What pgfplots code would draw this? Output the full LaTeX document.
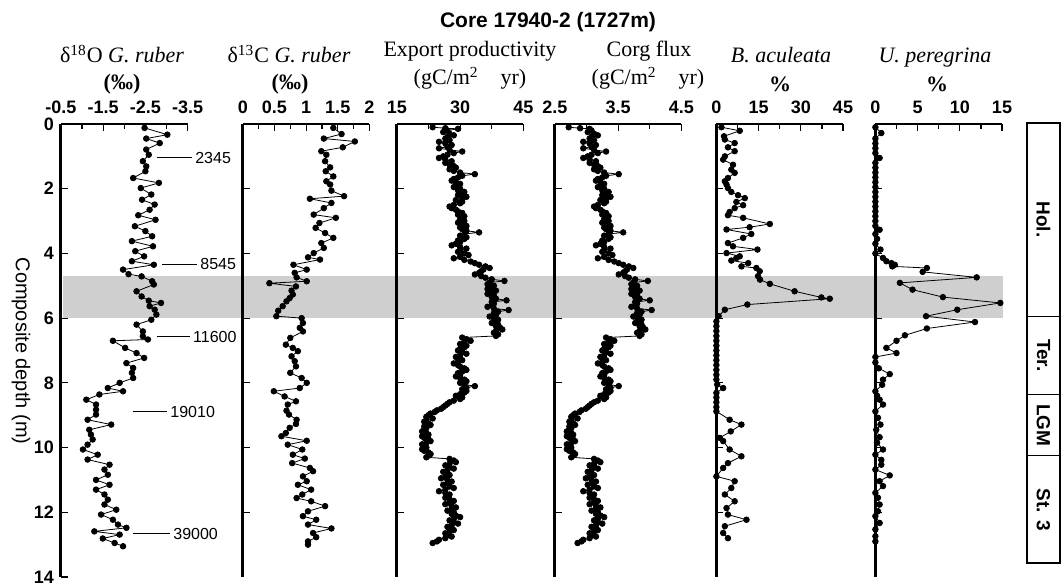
\documentclass[border=0pt]{standalone}
\usepackage{fontspec}
\setmainfont{Liberation Serif}
\setsansfont{Liberation Sans}
\usepackage{pgfplots}
\pgfplotsset{compat=1.18}

\newcommand{\tickfont}{\sffamily\bfseries\fontsize{9}{9}\selectfont}
\newcommand{\ttl}{\rmfamily\fontsize{11}{11}\selectfont}
\newcommand{\agefont}{\sffamily\fontsize{8}{8}\selectfont}

\pgfplotsset{
 core/.style={
   scale only axis, width=63.3pt, height=226.5pt, anchor=north west,
   ymin=0, ymax=14, y dir=reverse,
   axis x line*=top, axis y line*=left,
   x axis line style={line width=1pt,-},
   y axis line style={line width=1.5pt,-},
   ytick={2,4,...,12}, yticklabels={},
   tick style={black, line width=0.6pt},
   major tick length=3.5pt, minor tick length=2.5pt,
   xticklabel style={font=\tickfont, yshift=1.5pt},
   yticklabel style={font=\tickfont},
   clip=false,
 },
 ser/.style={black, line width=0.4pt, mark=*, mark size=1.4pt, mark options={solid,fill=black}},
}

\begin{document}
\begin{tikzpicture}
\useasboundingbox (0,0) rectangle (531pt,292pt);

% shaded band
\begin{axis}[at={(31.5pt,230pt)}, anchor=north west, scale only axis, width=470pt, height=226.5pt,
  xmin=0, xmax=1, ymin=0, ymax=14, y dir=reverse, hide axis]
\fill[black!19] (axis cs:0,4.7) rectangle (axis cs:1,6.0);
\end{axis}

% Panel 1: d18O
\begin{axis}[core, at={(30.5pt,230pt)}, xmin=-3.5, xmax=-0.5, x dir=reverse,
  xtick={-0.5,-1.5,-2.5,-3.5}, xticklabels={-0.5,-1.5,-2.5,-3.5}, minor xtick={-1,-2,-3},
  ytick={0,2,...,14}, yticklabels={0,2,4,6,8,10,12,14}]
\addplot[ser] table[x index=1, y index=0] {
0.12 -2.48
0.33 -3.02
0.45 -2.52
0.59 -2.84
0.79 -2.52
0.95 -2.58
1.15 -2.44
1.31 -2.52
1.46 -2.50
1.67 -2.21
1.82 -2.82
1.98 -2.39
2.18 -2.64
2.34 -2.42
2.49 -2.72
2.65 -2.60
2.82 -2.33
2.96 -2.74
3.16 -2.25
3.31 -2.50
3.47 -2.66
3.62 -2.18
3.78 -2.68
3.93 -2.26
4.09 -2.47
4.24 -2.18
4.35 -2.70
4.50 -1.97
4.64 -2.10
4.71 -2.41
4.86 -2.66
4.96 -2.70
5.17 -2.29
5.33 -2.41
5.46 -2.58
5.53 -2.87
5.63 -2.60
5.74 -2.72
5.89 -2.76
6.05 -2.64
6.20 -2.29
6.41 -2.44
6.56 -2.44
6.66 -2.56
6.70 -1.73
6.92 -2.02
7.08 -2.29
7.23 -2.47
7.39 -2.05
7.54 -2.21
7.69 -2.18
7.85 -2.21
8.00 -1.89
8.16 -1.61
8.26 -1.97
8.36 -1.41
8.52 -1.10
8.67 -1.33
8.83 -1.33
8.98 -1.33
9.14 -1.13
9.29 -1.69
9.45 -1.17
9.60 -1.21
9.75 -1.25
9.91 -1.13
10.06 -1.02
10.22 -1.37
10.37 -1.13
10.53 -1.65
10.68 -1.53
10.84 -1.61
11.00 -1.33
11.15 -1.65
11.30 -1.33
11.45 -1.53
11.61 -1.61
11.76 -1.53
11.92 -1.81
12.07 -1.45
12.23 -1.73
12.38 -1.85
12.48 -2.05
12.59 -1.29
12.69 -1.89
12.81 -1.49
12.95 -1.77
13.05 -1.97
};
\draw[line width=0.5pt] (axis cs:-2.77,1.05) -- (axis cs:-3.60,1.05) node[right, inner sep=1.5pt, font=\agefont] {2345};
\draw[line width=0.5pt] (axis cs:-2.89,4.33) -- (axis cs:-3.72,4.33) node[right, inner sep=1.5pt, font=\agefont] {8545};
\draw[line width=0.5pt] (axis cs:-2.77,6.58) -- (axis cs:-3.55,6.58) node[right, inner sep=1.5pt, font=\agefont] {11600};
\draw[line width=0.5pt] (axis cs:-2.20,8.90) -- (axis cs:-3.01,8.90) node[right, inner sep=1.5pt, font=\agefont] {19010};
\draw[line width=0.5pt] (axis cs:-2.20,12.67) -- (axis cs:-3.08,12.67) node[right, inner sep=1.5pt, font=\agefont] {39000};
\end{axis}

% Panel 2: d13C
\begin{axis}[core, at={(121.4pt,230pt)}, xmin=0, xmax=2,
  xtick={0,0.5,1,1.5,2}, xticklabels={0,0.5,1,1.5,2}, minor xtick={0.25,0.75,1.25,1.75}]
\addplot[ser] table[x index=1, y index=0] {
0.12 1.43
0.31 1.56
0.45 1.28
0.54 1.77
0.72 1.58
0.84 1.24
0.95 1.32
1.15 1.30
1.34 1.38
1.46 1.31
1.62 1.43
1.77 1.32
1.87 1.38
2.06 1.40
2.23 1.60
2.31 1.06
2.44 1.40
2.60 1.28
2.80 1.12
2.90 1.47
3.06 1.21
3.21 1.15
3.37 1.30
3.52 1.43
3.68 1.24
3.83 1.28
3.99 1.12
4.12 1.03
4.19 1.22
4.35 0.80
4.50 1.01
4.60 0.82
4.74 0.85
4.86 1.01
4.92 0.42
5.02 0.84
5.15 0.77
5.27 0.79
5.38 0.74
5.48 0.69
5.63 0.63
5.77 0.56
5.94 0.53
6.00 0.93
6.15 0.95
6.30 0.90
6.41 0.95
6.61 0.75
6.82 0.68
6.92 0.79
7.02 0.87
7.18 0.77
7.33 0.82
7.49 0.84
7.69 0.75
7.85 0.93
8.00 1.01
8.16 0.90
8.26 0.49
8.42 0.66
8.57 0.84
8.67 0.71
8.86 0.69
8.98 0.73
9.14 0.85
9.27 0.84
9.39 0.74
9.55 0.68
9.65 0.61
9.79 1.01
9.91 0.71
10.06 0.94
10.22 0.79
10.34 0.98
10.48 0.78
10.63 1.06
10.73 1.11
10.89 0.95
11.04 1.01
11.15 0.87
11.30 1.08
11.45 0.94
11.56 0.85
11.66 1.08
11.81 1.30
11.97 1.03
12.12 0.95
12.23 1.16
12.38 1.03
12.50 1.40
12.64 1.11
12.77 1.16
12.90 1.03
13.00 1.03
};
\end{axis}

% Panel 3: export productivity
\begin{axis}[core, at={(198.4pt,230pt)}, xmin=15, xmax=45,
  xtick={15,30,45}, xticklabels={15,30,45}, minor xtick={22.5,37.5}]
\addplot[ser] table[x index=1, y index=0] {
0.10 23.5
0.13 26.5
0.15 29.5
0.20 27.0
0.25 26.0
0.30 27.5
0.35 28.5
0.40 27.0
0.45 26.5
0.50 27.5
0.55 25.0
0.60 26.5
0.65 28.0
0.70 27.0
0.75 25.0
0.80 27.5
0.85 30.5
0.90 28.5
0.95 27.0
1.00 26.0
1.05 25.0
1.10 26.5
1.15 28.0
1.20 26.5
1.25 27.5
1.30 28.5
1.35 29.0
1.40 27.5
1.45 28.5
1.50 30.0
1.55 33.5
1.60 30.5
1.65 29.5
1.70 28.5
1.75 28.0
1.80 29.0
1.85 30.0
1.90 29.5
1.95 28.5
2.00 30.0
2.05 29.5
2.10 31.0
2.15 30.5
2.20 29.5
2.25 31.5
2.30 30.5
2.35 29.0
2.40 30.5
2.45 30.0
2.50 28.5
2.55 27.5
2.60 28.0
2.65 29.0
2.70 29.5
2.75 30.5
2.80 29.5
2.85 31.0
2.90 30.5
2.95 30.0
3.00 31.0
3.05 29.5
3.10 30.5
3.15 31.5
3.20 30.0
3.25 30.5
3.30 31.5
3.35 34.5
3.40 31.0
3.45 30.0
3.50 31.5
3.55 31.0
3.60 29.5
3.65 30.0
3.70 29.0
3.75 28.0
3.80 30.0
3.85 31.5
3.90 30.0
3.95 29.5
4.00 31.0
4.05 32.0
4.10 30.0
4.15 28.5
4.20 31.0
4.25 32.5
4.30 33.5
4.35 34.5
4.40 36.0
4.45 37.0
4.50 35.5
4.55 35.0
4.60 34.5
4.65 33.5
4.70 35.0
4.75 36.0
4.80 37.5
4.85 40.5
4.90 37.0
4.95 36.5
5.00 38.0
5.05 37.5
5.10 36.5
5.15 38.5
5.20 37.5
5.25 36.5
5.30 38.0
5.35 37.5
5.40 38.5
5.45 41.0
5.50 37.5
5.55 38.0
5.60 37.5
5.65 36.5
5.70 38.0
5.75 41.5
5.80 39.0
5.85 38.0
5.90 38.5
5.95 37.0
6.00 38.0
6.05 39.0
6.10 38.5
6.15 37.5
6.20 39.0
6.25 38.5
6.30 39.5
6.35 40.0
6.40 38.5
6.45 38.0
6.50 39.0
6.55 38.5
6.60 30.5
6.65 31.5
6.70 32.5
6.75 31.0
6.80 30.0
6.85 31.5
6.90 31.0
6.95 30.0
7.00 29.5
7.05 30.5
7.10 31.5
7.15 30.0
7.20 29.0
7.25 30.0
7.30 30.5
7.35 29.5
7.40 28.5
7.45 29.5
7.50 30.0
7.55 31.0
7.60 31.5
7.65 30.5
7.70 29.5
7.75 30.0
7.80 29.0
7.85 30.0
7.90 31.0
7.95 31.5
8.00 30.0
8.05 31.0
8.10 33.5
8.15 31.5
8.20 30.5
8.25 31.5
8.30 31.0
8.35 30.0
8.40 29.0
8.45 30.5
8.50 30.0
8.55 28.5
8.60 27.5
8.65 27.0
8.70 26.5
8.75 26.0
8.80 25.5
8.85 24.5
8.90 24.0
8.95 23.0
9.00 22.5
9.05 22.0
9.10 23.5
9.15 22.0
9.20 21.5
9.25 22.5
9.30 23.0
9.35 21.5
9.40 22.0
9.45 21.5
9.50 21.0
9.55 22.0
9.60 22.5
9.65 21.0
9.70 21.5
9.75 22.5
9.80 23.0
9.85 22.0
9.90 21.0
9.95 21.5
10.00 22.0
10.05 21.0
10.10 21.5
10.15 22.5
10.20 23.0
10.25 22.5
10.30 22.0
10.35 27.5
10.40 28.5
10.45 29.0
10.50 27.5
10.55 26.5
10.60 27.5
10.65 28.5
10.70 27.0
10.75 26.0
10.80 27.0
10.85 27.5
10.90 26.5
10.95 25.5
11.00 27.0
11.05 28.0
11.10 27.0
11.15 26.0
11.20 27.5
11.25 28.5
11.30 26.5
11.35 25.0
11.40 26.5
11.45 27.5
11.50 27.0
11.55 26.5
11.60 27.5
11.65 28.5
11.70 27.5
11.75 26.5
11.80 28.0
11.85 29.0
11.90 28.0
11.95 27.0
12.00 28.5
12.05 28.0
12.10 29.0
12.15 30.0
12.20 28.5
12.25 27.5
12.30 28.5
12.35 29.5
12.40 28.0
12.45 27.0
12.50 28.0
12.55 28.5
12.60 27.5
12.65 26.5
12.70 27.0
12.75 28.0
12.80 26.5
12.85 25.0
12.90 24.5
12.95 23.5
};
\end{axis}

% Panel 4: Corg flux
\begin{axis}[core, at={(277.4pt,230pt)}, xmin=2.5, xmax=4.5,
  xtick={2.5,3.5,4.5}, xticklabels={2.5,3.5,4.5}, minor xtick={3,4}]
\addplot[ser] table[x index=1, y index=0] {
0.10 2.72
0.13 2.90
0.15 3.05
0.20 3.08
0.25 3.02
0.30 3.12
0.35 3.18
0.40 3.08
0.45 3.05
0.50 3.12
0.55 2.95
0.60 3.05
0.65 3.15
0.70 3.08
0.75 2.95
0.80 3.12
0.85 3.31
0.90 3.18
0.95 3.08
1.00 3.02
1.05 2.95
1.10 3.05
1.15 3.15
1.20 3.05
1.25 3.12
1.30 3.18
1.35 3.22
1.40 3.12
1.45 3.18
1.50 3.28
1.55 3.51
1.60 3.31
1.65 3.25
1.70 3.18
1.75 3.15
1.80 3.22
1.85 3.28
1.90 3.25
1.95 3.18
2.00 3.28
2.05 3.25
2.10 3.35
2.15 3.31
2.20 3.25
2.25 3.38
2.30 3.31
2.35 3.22
2.40 3.31
2.45 3.28
2.50 3.18
2.55 3.12
2.60 3.15
2.65 3.22
2.70 3.25
2.75 3.31
2.80 3.25
2.85 3.35
2.90 3.31
2.95 3.28
3.00 3.35
3.05 3.25
3.10 3.31
3.15 3.38
3.20 3.28
3.25 3.31
3.30 3.38
3.35 3.58
3.40 3.35
3.45 3.28
3.50 3.38
3.55 3.35
3.60 3.25
3.65 3.28
3.70 3.22
3.75 3.15
3.80 3.28
3.85 3.38
3.90 3.28
3.95 3.25
4.00 3.35
4.05 3.41
4.10 3.28
4.15 3.18
4.20 3.35
4.25 3.44
4.30 3.51
4.35 3.58
4.40 3.67
4.45 3.74
4.50 3.64
4.55 3.61
4.60 3.58
4.65 3.51
4.70 3.61
4.75 3.67
4.80 3.77
4.85 3.97
4.90 3.74
4.95 3.71
5.00 3.80
5.05 3.77
5.10 3.71
5.15 3.84
5.20 3.77
5.25 3.71
5.30 3.80
5.35 3.77
5.40 3.84
5.45 4.00
5.50 3.77
5.55 3.80
5.60 3.77
5.65 3.71
5.70 3.80
5.75 4.03
5.80 3.87
5.85 3.80
5.90 3.84
5.95 3.74
6.00 3.80
6.05 3.87
6.10 3.84
6.15 3.77
6.20 3.87
6.25 3.84
6.30 3.90
6.35 3.93
6.40 3.84
6.45 3.80
6.50 3.87
6.55 3.84
6.60 3.31
6.65 3.38
6.70 3.44
6.75 3.35
6.80 3.28
6.85 3.38
6.90 3.35
6.95 3.28
7.00 3.25
7.05 3.31
7.10 3.38
7.15 3.28
7.20 3.22
7.25 3.28
7.30 3.31
7.35 3.25
7.40 3.18
7.45 3.25
7.50 3.28
7.55 3.35
7.60 3.38
7.65 3.31
7.70 3.25
7.75 3.28
7.80 3.22
7.85 3.28
7.90 3.35
7.95 3.38
8.00 3.28
8.05 3.35
8.10 3.51
8.15 3.38
8.20 3.31
8.25 3.38
8.30 3.35
8.35 3.28
8.40 3.22
8.45 3.31
8.50 3.28
8.55 3.18
8.60 3.12
8.65 3.08
8.70 3.05
8.75 3.02
8.80 2.99
8.85 2.92
8.90 2.89
8.95 2.82
9.00 2.79
9.05 2.76
9.10 2.86
9.15 2.76
9.20 2.73
9.25 2.79
9.30 2.82
9.35 2.73
9.40 2.76
9.45 2.73
9.50 2.69
9.55 2.76
9.60 2.79
9.65 2.69
9.70 2.73
9.75 2.79
9.80 2.82
9.85 2.76
9.90 2.69
9.95 2.73
10.00 2.76
10.05 2.69
10.10 2.73
10.15 2.79
10.20 2.82
10.25 2.79
10.30 2.76
10.35 3.12
10.40 3.18
10.45 3.22
10.50 3.12
10.55 3.05
10.60 3.12
10.65 3.18
10.70 3.08
10.75 3.02
10.80 3.08
10.85 3.12
10.90 3.05
10.95 2.99
11.00 3.08
11.05 3.15
11.10 3.08
11.15 3.02
11.20 3.12
11.25 3.18
11.30 3.05
11.35 2.95
11.40 3.05
11.45 3.12
11.50 3.08
11.55 3.05
11.60 3.12
11.65 3.18
11.70 3.12
11.75 3.05
11.80 3.15
11.85 3.22
11.90 3.15
11.95 3.08
12.00 3.18
12.05 3.15
12.10 3.22
12.15 3.28
12.20 3.18
12.25 3.12
12.30 3.18
12.35 3.25
12.40 3.15
12.45 3.08
12.50 3.15
12.55 3.18
12.60 3.12
12.65 3.05
12.70 3.08
12.75 3.15
12.80 3.05
12.85 2.95
12.90 2.92
12.95 2.86
};
\end{axis}

% Panel 5: B. aculeata
\begin{axis}[core, at={(358.2pt,230pt)}, xmin=0, xmax=45,
  xtick={0,15,30,45}, xticklabels={0,15,30,45}, minor xtick={7.5,22.5,37.5}]
\addplot[ser] table[x index=1, y index=0] {
0.10 1.8
0.21 8.3
0.38 2.7
0.48 3.0
0.59 6.5
0.72 4.1
0.84 6.5
1.00 3.0
1.10 2.4
1.26 5.9
1.41 5.3
1.51 6.5
1.67 4.1
1.77 3.0
1.87 3.6
1.98 4.1
2.10 5.3
2.20 7.7
2.29 10.1
2.41 7.1
2.51 9.5
2.60 6.5
2.72 4.7
2.82 4.1
2.90 9.5
3.09 19.0
3.19 11.8
3.26 3.6
3.40 12.4
3.52 9.5
3.68 4.1
3.78 5.9
3.88 14.6
3.99 3.6
4.09 8.3
4.14 7.1
4.22 5.3
4.30 11.3
4.40 8.9
4.45 14.2
4.55 15.4
4.70 14.8
4.81 15.5
4.94 19.0
5.17 27.8
5.36 37.3
5.40 40.3
5.58 11.0
5.74 3.0
5.94 0.8
6.10 0
6.25 0
6.40 0
6.55 0
6.70 0
6.85 0
7.00 0
7.15 0
7.30 0
7.45 0
7.60 0
7.75 0
7.90 0
8.05 0.3
8.16 2.4
8.31 0
8.45 0
8.60 0
8.75 0
8.88 0
9.14 4.7
9.29 8.9
9.50 5.1
9.70 1.2
9.80 2.4
10.06 4.7
10.27 8.9
10.48 4.1
10.63 2.4
10.89 0
11.04 6.5
11.25 5.3
11.45 3.0
11.66 6.5
11.87 3.6
12.07 4.1
12.23 10.7
12.43 3.0
12.64 2.4
12.80 4.1
};
\end{axis}

% Panel 6: U. peregrina
\begin{axis}[core, at={(437.7pt,230pt)}, xmin=0, xmax=15,
  xtick={0,5,10,15}, xticklabels={0,5,10,15}, minor xtick={2.5,7.5,12.5}]
\addplot[ser] table[x index=1, y index=0] {
0.10 0
0.28 0.7
0.45 0
0.60 0
0.75 0
0.90 0
1.05 0.5
1.20 0
1.35 0
1.50 0
1.65 0
1.80 0
1.95 0
2.10 0
2.25 0
2.40 0
2.55 0
2.70 0
2.85 0
3.00 0
3.15 0
3.27 0.5
3.40 0
3.55 0.2
3.70 0
3.88 0.6
4.00 0
4.14 0.9
4.24 1.3
4.30 1.9
4.35 2.3
4.40 2.0
4.45 6.1
4.57 5.6
4.74 12.0
4.91 2.9
5.12 4.4
5.35 8.0
5.53 14.8
5.74 9.7
5.94 6.0
6.12 11.8
6.32 6.1
6.53 3.5
6.70 2.5
6.92 1.3
7.08 2.5
7.20 0
7.37 0
7.55 0.4
7.73 1.7
7.90 0.9
8.06 0.8
8.26 0
8.40 0.2
8.52 0.5
8.67 0.9
8.88 0
9.08 0.3
9.29 0.6
9.45 0.1
9.68 0.5
9.85 0.2
10.06 0.9
10.22 0
10.38 0.7
10.53 0.7
10.68 0
10.86 1.7
11.04 0.5
11.19 0.9
11.40 0
11.55 0.3
11.76 0.5
11.97 0.3
12.12 0
12.33 0.5
12.53 0
12.74 0
12.90 0
};
\end{axis}

% stage column
\begin{axis}[at={(513.5pt,230pt)}, anchor=north west, scale only axis, width=16.5pt, height=226.5pt,
  xmin=0, xmax=1, ymin=0, ymax=14, y dir=reverse, hide axis, clip=false]
\draw[line width=1pt] (axis cs:0,-0.04) rectangle (axis cs:1,13.57);
\draw[line width=0.5pt] (axis cs:0,5.94) -- (axis cs:1,5.94);
\draw[line width=0.5pt] (axis cs:0,8.37) -- (axis cs:1,8.37);
\draw[line width=0.5pt] (axis cs:0,10.26) -- (axis cs:1,10.26);
\node[rotate=-90, font=\sffamily\bfseries\fontsize{9.5}{9.5}\selectfont] at (axis cs:0.5,2.95) {Hol.};
\node[rotate=-90, font=\sffamily\bfseries\fontsize{9.5}{9.5}\selectfont] at (axis cs:0.5,7.15) {Ter.};
\node[rotate=-90, font=\sffamily\bfseries\fontsize{9.5}{9.5}\selectfont] at (axis cs:0.5,9.31) {LGM};
\node[rotate=-90, font=\sffamily\bfseries\fontsize{9.5}{9.5}\selectfont] at (axis cs:0.5,11.92) {St. 3};
\end{axis}

% titles
\node[anchor=base, font=\sffamily\bfseries\fontsize{10.5}{10.5}\selectfont] at (274pt,278pt) {Core 17940-2 (1727m)};
\node[anchor=base, font=\ttl] at (61pt,260.5pt) {δ\textsuperscript{18}O \textit{G. ruber}};
\node[anchor=base, font=\ttl] at (61pt,247pt) {\textbf{(‰)}};
\node[anchor=base, font=\ttl] at (144.5pt,260.5pt) {δ\textsuperscript{13}C \textit{G. ruber}};
\node[anchor=base, font=\ttl] at (145pt,247pt) {\textbf{(‰)}};
\node[anchor=base, font=\ttl] at (235pt,263.5pt) {Export productivity};
\node[anchor=base, font=\ttl] at (235pt,249.5pt) {(gC/m\textsuperscript{2}\quad yr)};
\node[anchor=base, font=\ttl] at (324.5pt,263.5pt) {Corg flux};
\node[anchor=base, font=\ttl] at (324pt,249.5pt) {(gC/m\textsuperscript{2}\quad yr)};
\node[anchor=base, font=\ttl] at (390.5pt,260.5pt) {\textit{B. aculeata}};
\node[anchor=base, font=\ttl] at (390pt,246pt) {\textbf{\%}};
\node[anchor=base, font=\ttl] at (467.5pt,260.5pt) {\textit{U. peregrina}};
\node[anchor=base, font=\ttl] at (468.5pt,246pt) {\textbf{\%}};
\node[rotate=-90, font=\sffamily\fontsize{10}{10}\selectfont] at (10.5pt,116.5pt) {Composite depth (m)};
\end{tikzpicture}
\end{document}
